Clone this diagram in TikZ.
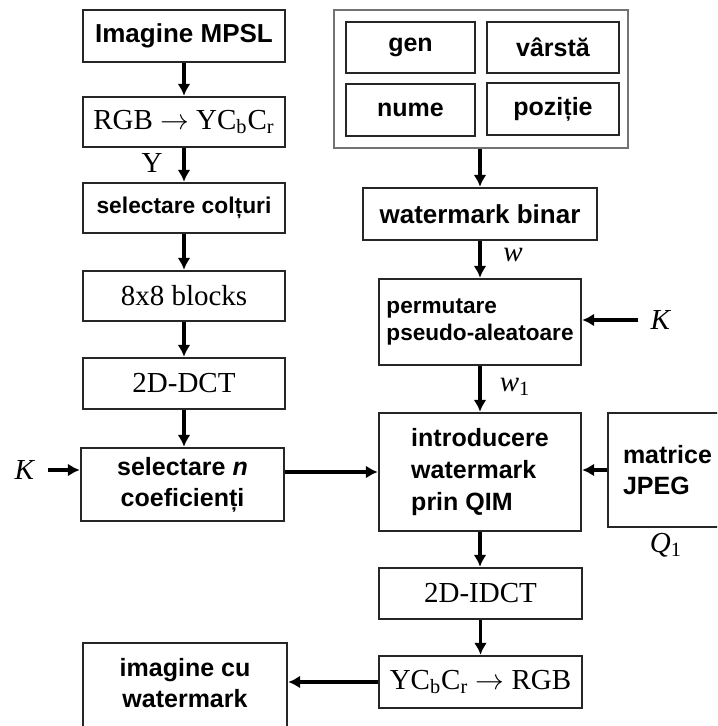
\documentclass[tikz,border=0pt]{standalone}
\usepackage{fontspec}
\setmainfont{Liberation Serif}
\setsansfont{Liberation Sans}
\usetikzlibrary{arrows.meta}
\begin{document}
\begin{tikzpicture}[x=0.5pt,y=-0.5pt,
  block/.style={draw=black!85,line width=1.2pt,inner sep=2pt,align=center,font=\sffamily\bfseries\fontsize{12.5}{15.5}\selectfont},
  serif block/.style={block,font=\rmfamily\fontsize{14.5}{17}\selectfont},
  label node/.style={inner sep=1pt,font=\rmfamily\fontsize{14.5}{17}\selectfont},
  flow/.style={-{Latex[length=6pt,width=6.5pt]},line width=1.7pt}]
        \useasboundingbox (0,0) rectangle (717,726);
        \clip (0,0) rectangle (717,726);
        \node [block,minimum width=101pt,minimum height=26pt,font=\sffamily\bfseries\fontsize{13}{15}\selectfont] (mpsl) at (184,36) {Imagine MPSL};
        \node [serif block,minimum width=101pt,minimum height=25pt] (rgbin) at (184,122) {RGB $\rightarrow$ YC\textsubscript{b}C\textsubscript{r}};
        \node [block,minimum width=101pt,minimum height=25pt,font=\sffamily\bfseries\fontsize{11.4}{14}\selectfont] (colturi) at (184,208) {selectare colțuri};
        \node [serif block,minimum width=101pt,minimum height=25pt] (blocks) at (184,296) {8x8 blocks};
        \node [serif block,minimum width=101pt,minimum height=25.5pt] (dct) at (184,383.5) {2D-DCT};
        \node [block,minimum width=101.5pt,minimum height=36.5pt] (selcoef) at (182.5,484.5) {selectare \textit{n}\\coeficienți};
        \node [block,minimum width=102pt,minimum height=55pt] (imagine) at (185,698) {imagine cu\\watermark\\\mbox{}};
        \node [draw=black!55,line width=0.9pt,minimum width=147pt,minimum height=69pt] (group) at (481,79) {};
        \node [block,minimum width=64.5pt,minimum height=25.5pt] (gen) at (410.5,47.5) {gen};
        \node [block,minimum width=66pt,minimum height=25.5pt] (varsta) at (553,47.5) {vârstă};
        \node [block,minimum width=64.5pt,minimum height=26pt] (nume) at (410.5,110) {nume};
        \node [block,minimum width=66pt,minimum height=26pt] (pozitie) at (553,109) {poziție};
        \node [block,minimum width=117pt,minimum height=26pt,font=\sffamily\bfseries\fontsize{13}{15}\selectfont] (binar) at (480,214) {watermark binar};
        \node [block,align=left,minimum width=101pt,minimum height=43pt,font=\sffamily\bfseries\fontsize{11.3}{13.5}\selectfont] (perm) at (480,322) {permutare\\pseudo-aleatoare};
        \node [block,align=left,minimum width=101pt,minimum height=59pt,font=\sffamily\bfseries\fontsize{12.5}{16}\selectfont] (intro) at (480,472) {introducere\\watermark\\prin QIM};
        \node [block,align=left,inner xsep=7.5pt,text width=51pt,minimum height=57pt] (matrice) at (674,470) {matrice\\JPEG};
        \node [serif block,minimum width=101.5pt,minimum height=25.5pt] (idct) at (480.5,593.5) {2D-IDCT};
        \node [serif block,minimum width=101.5pt,minimum height=26pt] (rgbout) at (480.5,682) {YC\textsubscript{b}C\textsubscript{r} $\rightarrow$ RGB};
        \node [label node] (ylbl) at (152,163) {Y};
        \node [label node] (wlbl) at (513,255) {\textit{w}};
        \node [label node] (wonelbl) at (515,387) {\textit{w}\textsubscript{1}};
        \node [label node] (kleft) at (25,470) {\textit{K}};
        \node [label node] (kright) at (661,320) {\textit{K}};
        \node [label node] (qone) at (666,545) {\textit{Q}\textsubscript{1}};
        \draw [flow] (mpsl) -- (rgbin);
        \draw [flow] (rgbin) -- (colturi);
        \draw [flow] (colturi) -- (blocks);
        \draw [flow] (blocks) -- (dct);
        \draw [flow] (dct.south) -- (dct.south |- selcoef.north);
        \draw [flow,shorten <=5pt] (kleft) -- (kleft -| selcoef.west);
        \draw [flow] (selcoef.east |- intro.west) -- (intro.west);
        \draw [flow] (group.south -| binar) -- (binar);
        \draw [flow] (binar) -- (perm);
        \draw [flow,shorten <=5pt] (kright) -- (kright -| perm.east);
        \draw [flow] (perm) -- (intro);
        \draw [flow] (matrice.west) -- (matrice.west -| intro.east);
        \draw [flow] (intro.south) -- (intro.south |- idct.north);
        \draw [flow] (idct) -- (rgbout);
        \draw [flow] (rgbout.west) -- (rgbout.west -| imagine.east);
    \end{tikzpicture}
\end{document}
